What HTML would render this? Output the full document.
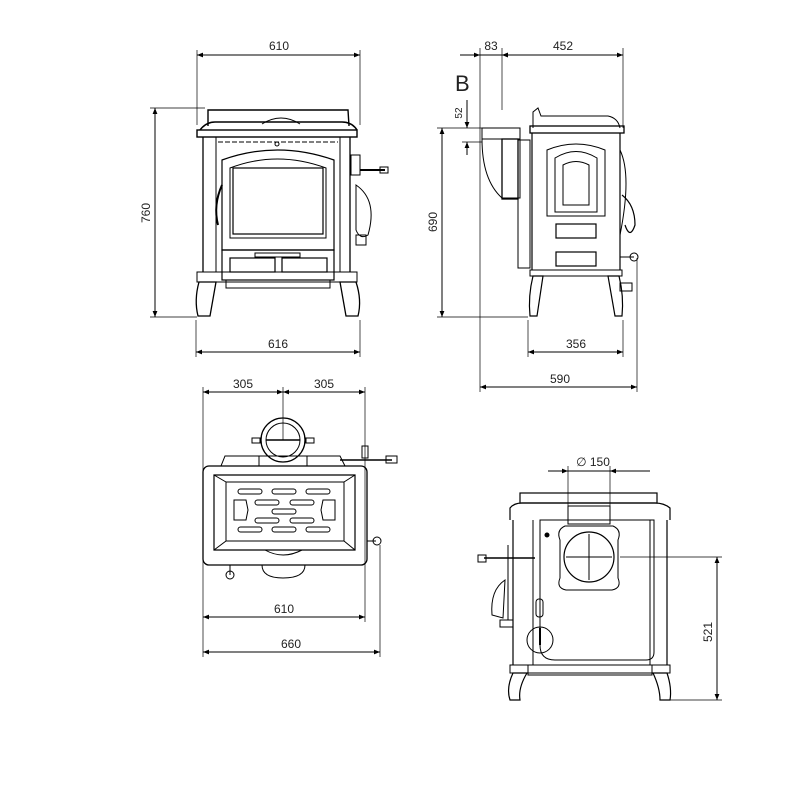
<!DOCTYPE html>
<html><head><meta charset="utf-8"><style>
html,body{margin:0;padding:0;background:#fff;}
svg{display:block;}
text{font-family:"Liberation Sans",sans-serif;font-size:12px;fill:#222;}
</style></head><body>
<svg width="808" height="791" viewBox="0 0 808 791" xmlns="http://www.w3.org/2000/svg">
<defs>
<marker id="a" viewBox="0 0 10 10" refX="10" refY="5" markerWidth="8" markerHeight="6" orient="auto-start-reverse"><path d="M0,1 L10,5 L0,9 z" fill="#000"/></marker>
</defs>
<g stroke="#000" stroke-width="1" fill="none">
<!-- ============ FRONT VIEW ============ -->
<!-- dims -->
<line x1="197" y1="55" x2="360" y2="55" marker-start="url(#a)" marker-end="url(#a)"/>
<line x1="197" y1="50" x2="197" y2="125" stroke-width=".7"/>
<line x1="360" y1="50" x2="360" y2="125" stroke-width=".7"/>
<line x1="155" y1="108" x2="155" y2="317" marker-start="url(#a)" marker-end="url(#a)"/>
<line x1="150" y1="108" x2="205" y2="108" stroke-width=".7"/>
<line x1="150" y1="317" x2="197" y2="317" stroke-width=".7"/>
<line x1="196" y1="352" x2="360" y2="352" marker-start="url(#a)" marker-end="url(#a)"/>
<line x1="196" y1="320" x2="196" y2="357" stroke-width=".7"/>
<line x1="360" y1="320" x2="360" y2="357" stroke-width=".7"/>
<!-- lid -->
<path d="M208,126 L208,110 L348,110 L349,126" stroke-width="1.4"/>
<path d="M262,124 Q281,112 300,124"/>
<path d="M200,130 Q206,122 215,122 L342,122 Q352,122 357,130" stroke-width="1.5"/>
<rect x="197" y="130" width="160" height="7" stroke-width="1.4"/>
<!-- body -->
<path d="M203,137 L203,272 M350,137 L350,272" stroke-width="1.3"/>
<path d="M216,137 L216,272 M340,137 L340,272"/>
<line x1="218" y1="142" x2="338" y2="142" stroke-dasharray="5,2"/>
<circle cx="277" cy="144" r="2"/>
<!-- door frame -->
<path d="M222,250 L222,160 Q277,140 334,160 L334,250 Z" stroke-width="1.2"/>
<path d="M230,238 L230,168 Q277,150 326,168 L326,238 Z"/>
<rect x="233" y="168" width="90" height="66" stroke-width="1.2"/>
<!-- left handle -->
<path d="M222,185 Q213,205 218,225" stroke-width="2"/>
<!-- right side knobs -->
<rect x="351" y="155" width="9" height="20"/>
<path d="M360,170 L385,170" stroke-width="2"/>
<rect x="380" y="167" width="8" height="6"/>
<path d="M356,185 Q378,200 368,235 Q360,240 356,230 Z"/>
<rect x="356" y="235" width="10" height="10"/>
<!-- ashpan area -->
<rect x="222" y="250" width="112" height="30" stroke-width="1.2"/>
<rect x="230" y="258" width="45" height="14" stroke-width="1.2"/>
<rect x="282" y="258" width="45" height="14" stroke-width="1.2"/>
<rect x="255" y="253" width="45" height="4"/>
<rect x="226" y="280" width="104" height="8"/>
<!-- base & legs -->
<path d="M197,272 L357,272 L357,282 L197,282 Z" fill="none"/>
<path d="M199,282 L216,282 L210,316 L198,316 Q194,300 199,282 Z" stroke-width="1.3"/>
<path d="M340,282 L356,282 Q362,300 358,316 L346,316 Z" stroke-width="1.3"/>

<!-- ============ SIDE VIEW ============ -->
<line x1="460" y1="55" x2="480" y2="55" marker-end="url(#a)"/>
<line x1="522" y1="55" x2="502" y2="55" marker-end="url(#a)"/>
<line x1="480" y1="55" x2="502" y2="55"/>
<line x1="502" y1="55" x2="623" y2="55" marker-start="url(#a)" marker-end="url(#a)"/>
<line x1="480" y1="48" x2="480" y2="392" stroke-width=".7"/>
<line x1="502" y1="48" x2="502" y2="110" stroke-width=".7"/>
<line x1="623" y1="48" x2="623" y2="128" stroke-width=".7"/>
<line x1="467" y1="100" x2="467" y2="128" marker-end="url(#a)"/>
<line x1="467" y1="155" x2="467" y2="142" marker-end="url(#a)"/>
<line x1="462" y1="142" x2="482" y2="142" stroke-width=".7"/>
<line x1="442" y1="128" x2="442" y2="317" marker-start="url(#a)" marker-end="url(#a)"/>
<line x1="437" y1="128" x2="482" y2="128" stroke-width=".7"/>
<line x1="437" y1="317" x2="528" y2="317" stroke-width=".7"/>
<line x1="528" y1="352" x2="623" y2="352" marker-start="url(#a)" marker-end="url(#a)"/>
<line x1="528" y1="320" x2="528" y2="357" stroke-width=".7"/>
<line x1="623" y1="320" x2="623" y2="357" stroke-width=".7"/>
<line x1="480" y1="387" x2="637" y2="387" marker-start="url(#a)" marker-end="url(#a)"/>
<line x1="637" y1="258" x2="637" y2="392" stroke-width=".7"/>
<!-- flue -->
<rect x="482" y="128" width="38" height="11"/>
<path d="M482,139 Q482,180 502,198 L520,198 L520,139" />
<rect x="502" y="139" width="16" height="60" stroke-width="1.3"/>
<!-- back plate -->
<path d="M518,140 L530,140 L530,268 L518,268 Z"/>
<!-- lid -->
<path d="M533,128 L533,112 L538,108 L541,116 L608,116 Q618,118 620,128"/>
<rect x="530" y="126" width="94" height="7" stroke-width="1.3"/>
<!-- body -->
<path d="M532,133 L532,270 M620,133 L620,270" stroke-width="1.2"/>
<path d="M547,150 L547,216 L605,216 L605,150 Q576,138 547,150 Z"/>
<path d="M555,158 L555,212 L597,212 L597,158 Q576,145 555,158 Z"/>
<path d="M563,165 L563,205 L589,205 L589,165 Q576,158 563,165 Z"/>
<rect x="556" y="224" width="40" height="14" stroke-width="1.2"/>
<rect x="556" y="252" width="40" height="14" stroke-width="1.2"/>
<path d="M620,150 Q632,175 620,235"/>
<path d="M622,195 Q635,205 635,225 Q630,240 625,225" stroke-width="1.2"/>
<circle cx="634" cy="257" r="4"/>
<line x1="620" y1="257" x2="634" y2="257"/>
<!-- base & legs -->
<rect x="530" y="270" width="92" height="6"/>
<path d="M533,276 L543,276 L537,316 L530,316 Q528,296 533,276 Z" stroke-width="1.2"/>
<path d="M608,276 L619,276 Q624,296 622,316 L615,316 Z" stroke-width="1.2"/>
<rect x="620" y="283" width="12" height="8"/>

<!-- ============ TOP VIEW ============ -->
<line x1="203" y1="392" x2="283" y2="392" marker-start="url(#a)" marker-end="url(#a)"/>
<line x1="283" y1="392" x2="365" y2="392" marker-start="url(#a)" marker-end="url(#a)"/>
<line x1="203" y1="387" x2="203" y2="622" stroke-width=".7"/>
<line x1="365" y1="387" x2="365" y2="622" stroke-width=".7"/>
<line x1="283" y1="387" x2="283" y2="440" stroke-width=".7"/>
<line x1="203" y1="617" x2="365" y2="617" marker-start="url(#a)" marker-end="url(#a)"/>
<line x1="203" y1="652" x2="380" y2="652" marker-start="url(#a)" marker-end="url(#a)"/>
<line x1="203" y1="622" x2="203" y2="657" stroke-width=".7"/>
<line x1="380" y1="545" x2="380" y2="657" stroke-width=".7"/>
<!-- flue ring -->
<circle cx="283" cy="440" r="22" stroke-width="1.3"/>
<circle cx="283" cy="440" r="17"/>
<line x1="266" y1="440" x2="300" y2="440" stroke-width="1.5"/>
<rect x="252" y="438" width="8" height="5"/><rect x="306" y="438" width="8" height="5"/>
<rect x="259" y="456" width="48" height="10"/>
<path d="M225,456 L340,456 L345,466 L221,466 Z"/>
<!-- handle right -->
<line x1="340" y1="460" x2="392" y2="460" stroke-width="1.5"/>
<rect x="386" y="456" width="11" height="7"/>
<rect x="362" y="446" width="6" height="12"/>
<!-- body -->
<rect x="203" y="466" width="164" height="99" rx="6" stroke-width="1.3"/>
<path d="M214,475 L355,475 L355,550 L214,550 Z" stroke-width="1.2"/>
<path d="M226,482 L344,482 L344,541 L226,541 Z"/>
<line x1="214" y1="475" x2="226" y2="482"/><line x1="355" y1="475" x2="344" y2="482"/>
<line x1="214" y1="550" x2="226" y2="541"/><line x1="355" y1="550" x2="344" y2="541"/>
<g stroke-width="1">
<rect x="238" y="489" width="24" height="5" rx="2.5"/><rect x="272" y="489" width="24" height="5" rx="2.5"/><rect x="306" y="489" width="24" height="5" rx="2.5"/>
<rect x="255" y="500" width="24" height="5" rx="2.5"/><rect x="290" y="500" width="24" height="5" rx="2.5"/>
<rect x="272" y="509" width="24" height="5" rx="2.5"/>
<rect x="255" y="518" width="24" height="5" rx="2.5"/><rect x="290" y="518" width="24" height="5" rx="2.5"/>
<rect x="238" y="527" width="24" height="5" rx="2.5"/><rect x="272" y="527" width="24" height="5" rx="2.5"/><rect x="306" y="527" width="24" height="5" rx="2.5"/>
<path d="M234,500 L246,500 L248,510 L246,520 L234,520 Z"/>
<path d="M335,500 L323,500 L321,510 L323,520 L335,520 Z"/>
</g>
<path d="M265,550 Q283,560 302,550"/>
<path d="M262,565 L305,565 Q305,578 283,578 Q262,578 262,565 Z"/>
<line x1="230" y1="565" x2="230" y2="575"/>
<circle cx="230" cy="575" r="4"/>
<line x1="367" y1="541" x2="376" y2="541"/>
<circle cx="377" cy="541" r="4"/>

<!-- ============ REAR VIEW ============ -->
<line x1="548" y1="471" x2="568" y2="471" marker-end="url(#a)"/>
<line x1="650" y1="471" x2="610" y2="471" marker-end="url(#a)"/>
<line x1="568" y1="471" x2="610" y2="471"/>
<line x1="568" y1="466" x2="568" y2="520" stroke-width=".7"/>
<line x1="610" y1="466" x2="610" y2="520" stroke-width=".7"/>
<line x1="717" y1="557" x2="717" y2="700" marker-start="url(#a)" marker-end="url(#a)"/>
<line x1="620" y1="557" x2="722" y2="557" stroke-width=".7"/>
<line x1="665" y1="700" x2="722" y2="700" stroke-width=".7"/>
<!-- top -->
<rect x="520" y="493" width="137" height="10" stroke-width="1.2"/>
<path d="M510,520 L510,508 Q514,503 522,503 L655,503 Q664,503 670,508 L670,520" stroke-width="1.2"/>
<path d="M513,520 L513,665 M667,520 L667,665" stroke-width="1.2"/>
<path d="M533,520 L533,665 M650,520 L650,665"/>
<path d="M540,520 L654,520 L654,652 Q654,660 646,660 L555,660 Q540,660 540,645 Z"/>
<!-- flue plate -->
<rect x="568" y="506" width="42" height="18"/>
<path d="M565,526 L613,526 Q622,530 618,540 L618,578 Q622,588 612,590 L566,590 Q556,588 560,578 L560,540 Q556,530 565,526 Z"/>
<circle cx="589" cy="557" r="25" stroke-width="1.2"/>
<line x1="566" y1="557" x2="612" y2="557"/>
<line x1="589" y1="534" x2="589" y2="580"/>
<circle cx="547" cy="535" r="2" fill="#000"/>
<!-- small window / circle -->
<rect x="536" y="599" width="7" height="18" rx="3"/>
<circle cx="540" cy="640" r="13"/>
<line x1="540" y1="628" x2="540" y2="645" stroke-width="2"/>
<!-- left handle -->
<line x1="484" y1="558" x2="535" y2="558" stroke-width="1.5"/>
<rect x="478" y="555" width="8" height="7"/>
<path d="M505,580 Q490,590 492,615 L503,618 Z"/>
<rect x="500" y="620" width="13" height="7"/>
<line x1="508" y1="545" x2="508" y2="620"/>
<!-- base & legs -->
<rect x="510" y="665" width="160" height="8"/>
<rect x="528" y="665" width="124" height="10"/>
<path d="M513,673 L527,673 Q518,688 520,700 L510,700 Q506,688 513,673 Z" stroke-width="1.2"/>
<path d="M653,673 L667,673 Q672,688 670,700 L660,700 Q660,688 653,673 Z" stroke-width="1.2"/>
</g>

<!-- ============ TEXT ============ -->
<text x="279" y="50" text-anchor="middle">610</text>
<text x="0" y="0" text-anchor="middle" transform="translate(150,213) rotate(-90)">760</text>
<text x="278" y="348" text-anchor="middle">616</text>
<text x="491" y="50" text-anchor="middle">83</text>
<text x="563" y="50" text-anchor="middle">452</text>
<text x="455" y="91" style="font-size:22px">B</text>
<text x="0" y="0" text-anchor="middle" transform="translate(462,113) rotate(-90)" style="font-size:10px">52</text>
<text x="0" y="0" text-anchor="middle" transform="translate(437,222) rotate(-90)">690</text>
<text x="576" y="348" text-anchor="middle">356</text>
<text x="560" y="383" text-anchor="middle">590</text>
<text x="243" y="388" text-anchor="middle">305</text>
<text x="324" y="388" text-anchor="middle">305</text>
<text x="284" y="613" text-anchor="middle">610</text>
<text x="291" y="648" text-anchor="middle">660</text>
<text x="593" y="466" text-anchor="middle">∅ 150</text>
<text x="0" y="0" text-anchor="middle" transform="translate(712,632) rotate(-90)">521</text>
</svg>
</body></html>
